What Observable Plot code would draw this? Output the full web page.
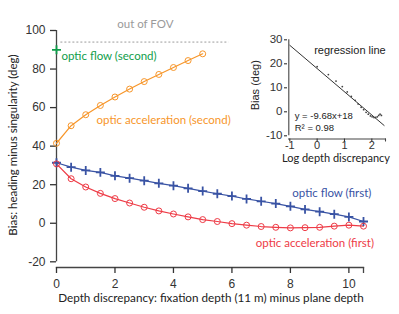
<!DOCTYPE html>
<html>
<head>
<meta charset="utf-8">
<script src="https://cdn.jsdelivr.net/npm/d3@7"></script>
<script src="https://cdn.jsdelivr.net/npm/@observablehq/plot@0.6"></script>
<style>
  body { margin: 0; background: white; }
  #wrap { position: relative; width: 399px; height: 314px; }
  #wrap svg { position: absolute; left: 0; top: 0; }
</style>
</head>
<body>
<div id="wrap"></div>
<script>
// ---- main chart data ----
const xFirst = [0, 0.5, 1, 1.5, 2, 2.5, 3, 3.5, 4, 4.5, 5, 5.5, 6, 6.5, 7, 7.5, 8, 8.5, 9, 9.5, 10, 10.5];
const flowFirst = [31.4, 29.1, 27.4, 26.4, 24.6, 23.4, 22.1, 20.7, 19.5, 18.1, 16.7, 15.3, 14.1, 12.6, 11.4, 10.2, 8.8, 7.2, 6.0, 4.7, 3.3, 0.9];
const accelFirst = [30.8, 23.1, 18.8, 15.5, 12.8, 10.5, 8.3, 6.4, 4.8, 3.3, 1.9, 0.9, -0.2, -1.0, -1.7, -2.1, -2.4, -2.3, -2.1, -1.5, -1.0, -1.5];
const xSecond = [0, 0.5, 1, 1.5, 2, 2.5, 3, 3.5, 4, 4.5, 5];
const accelSecond = [41.5, 50.6, 56.3, 61.1, 65.5, 69.6, 73.5, 77.2, 80.8, 84.4, 87.9];
const xFlowSecond = [0];
const flowSecond = [90];
const fovLimit = [94];
const xTicks = [0, 2, 4, 6, 8, 10];
const yTicks = [-20, 0, 20, 40, 60, 80, 100];

// ---- inset data ----
const logDepth = [0, 0.41, 0.69, 0.92, 1.10, 1.25, 1.39, 1.50, 1.61, 1.70, 1.79, 1.87, 1.95, 2.01, 2.08, 2.14, 2.20, 2.25, 2.30, 2.35];
const insetBias = [18.8, 15.5, 12.8, 10.5, 8.3, 6.4, 4.8, 3.3, 1.9, 0.9, -0.2, -1.0, -1.7, -2.1, -2.4, -2.3, -2.1, -1.5, -1.0, -1.5];
const regX = [-1, 2.45];
const regY = [27.7, -5.7];
const insetXTicks = [-1, 0, 1, 2];
const insetYTicks = [-10, 0, 10, 20, 30];

const BLUE = "#3953a4", RED = "#ee3b46", ORANGE = "#f7962a", GREEN = "#0f9d4a", GRAY = "#9a9a9a";
const LABEL_FONT = "Lato, 'Open Sans', sans-serif";
const TICK_FONT = "'Liberation Sans', Arial, sans-serif";
const intFmt = (d) => String(d);

const pts = (xs, ys) => xs.map((x, i) => ({x, y: ys[i]}));
const flowFirstD = pts(xFirst, flowFirst);
const accelFirstD = pts(xFirst, accelFirst);
const accelSecondD = pts(xSecond, accelSecond);
const flowSecondD = pts(xFlowSecond, flowSecond);

const main = Plot.plot({
  width: 399, height: 314,
  marginLeft: 56, marginRight: 36, marginTop: 30, marginBottom: 47,
  style: {background: "transparent", overflow: "visible"},
  x: {domain: [0, 10.5], range: [56, 363]},
  y: {domain: [-20, 100], range: [261.3, 30]},
  marks: [
    Plot.frame({anchor: "bottom", stroke: "#444", strokeWidth: 1.3}),
    Plot.ruleX([0], {y1: -20, y2: 100, stroke: "#444", strokeWidth: 1.3}),
    Plot.axisY({ticks: yTicks, tickFormat: intFmt, tickSize: 6, tickPadding: 5, label: null, fontSize: 12, fontFamily: TICK_FONT, color: "#333", strokeWidth: 1.3}),
    Plot.axisX({ticks: xTicks, tickFormat: intFmt, tickSize: 6, tickPadding: 6, label: null, fontSize: 12, fontFamily: TICK_FONT, color: "#333", strokeWidth: 1.3}),
    Plot.axisX({ticks: [10.5], tickSize: 6, tickFormat: () => "", label: null, strokeWidth: 1.3, stroke: "#444"}),
    Plot.ruleY(fovLimit, {x1: 0.15, x2: 5.9, stroke: GRAY, strokeDasharray: "2,2", strokeWidth: 1}),
    Plot.line(flowFirstD, {x: "x", y: "y", stroke: BLUE, strokeWidth: 1.2}),
    Plot.line(accelFirstD, {x: "x", y: "y", stroke: RED, strokeWidth: 1.2}),
    Plot.line(accelSecondD, {x: "x", y: "y", stroke: ORANGE, strokeWidth: 1.2}),
    Plot.dot(flowFirstD, {x: "x", y: "y", symbol: "plus", r: 3, stroke: BLUE, strokeWidth: 1.8}),
    Plot.dot(accelFirstD, {x: "x", y: "y", symbol: "circle", r: 3, stroke: RED, fill: "none", strokeWidth: 1}),
    Plot.dot(accelSecondD, {x: "x", y: "y", symbol: "circle", r: 3, stroke: ORANGE, fill: "none", strokeWidth: 1}),
    Plot.dot(flowSecondD, {x: "x", y: "y", symbol: "plus", r: 3, stroke: GREEN, strokeWidth: 1.8}),
    Plot.text(["out of FOV"], {x: 3.04, y: 103.2, fill: GRAY, fontSize: 11.5, fontFamily: LABEL_FONT}),
    Plot.text(["optic flow (second)"], {x: 0.17, y: 86.8, fill: GREEN, fontSize: 11.5, fontFamily: LABEL_FONT, textAnchor: "start"}),
    Plot.text(["optic acceleration (second)"], {x: 1.37, y: 53.4, fill: ORANGE, fontSize: 11.5, fontFamily: LABEL_FONT, textAnchor: "start"}),
    Plot.text(["optic flow (first)"], {x: 10.77, y: 15.4, fill: BLUE, fontSize: 11.5, fontFamily: LABEL_FONT, textAnchor: "end"}),
    Plot.text(["optic acceleration (first)"], {x: 10.86, y: -10.3, fill: RED, fontSize: 11.5, fontFamily: LABEL_FONT, textAnchor: "end"}),
    Plot.text(["Bias: heading minus singularity (deg)"], {frameAnchor: "left", textAnchor: "middle", rotate: -90, dx: -43, dy: -4, fill: "#222", fontSize: 11.5, fontFamily: LABEL_FONT}),
    Plot.text(["Depth discrepancy: fixation depth (11 m) minus plane depth"], {frameAnchor: "bottom", dy: 34, dx: 1, fill: "#222", fontSize: 11.7, fontFamily: LABEL_FONT})
  ]
});

const inset = Plot.plot({
  width: 399, height: 314,
  marginLeft: 288, marginRight: 14, marginTop: 39, marginBottom: 175.5,
  style: {background: "transparent", overflow: "visible"},
  x: {domain: [-1, 2.5], range: [289.3, 385]},
  y: {domain: [-10, 30], range: [135.3, 39.3]},
  marks: [
    Plot.frame({anchor: "bottom", stroke: "#444", strokeWidth: 1.1}),
    Plot.ruleX([-1], {y1: -10, y2: 30, stroke: "#444", strokeWidth: 1.1, dx: -1}),
    Plot.axisY({ticks: insetYTicks, tickFormat: intFmt, tickSize: 3, tickPadding: 2, label: null, fontSize: 11.5, fontFamily: TICK_FONT, color: "#333", strokeWidth: 1.1, dx: -1}),
    Plot.axisX({ticks: insetXTicks, tickFormat: intFmt, tickSize: 3, tickPadding: -1, label: null, fontSize: 11, fontFamily: TICK_FONT, color: "#333", strokeWidth: 1.1}),
    Plot.axisX({ticks: [2.5], tickSize: 3, tickFormat: () => "", label: null, strokeWidth: 1.1, stroke: "#444"}),
    Plot.line(pts(regX, regY), {x: "x", y: "y", stroke: "#333", strokeWidth: 1}),
    Plot.dot(pts(logDepth, insetBias), {x: "x", y: "y", r: 0.9, fill: "#444", stroke: "none"}),
    Plot.text(["regression line"], {x: 1.2, y: 25.5, fill: "#222", fontSize: 11, fontFamily: TICK_FONT}),
    Plot.text(["y = -9.68x+18"], {x: -0.82, y: -1.8, fill: "#222", fontSize: 9.5, fontFamily: TICK_FONT, textAnchor: "start"}),
    Plot.text(["R\u00B2 = 0.98"], {x: -0.82, y: -6.8, fill: "#222", fontSize: 9.5, fontFamily: TICK_FONT, textAnchor: "start"}),
    Plot.text(["Bias (deg)"], {frameAnchor: "left", textAnchor: "middle", rotate: -90, dx: -33, dy: -4, fill: "#222", fontSize: 11, fontFamily: TICK_FONT}),
    Plot.text(["Log depth discrepancy"], {frameAnchor: "bottom", dy: 22.5, dx: -1, fill: "#222", fontSize: 11, fontFamily: LABEL_FONT})
  ]
});

const wrap = document.getElementById("wrap");
wrap.appendChild(main);
wrap.appendChild(inset);
</script>
</body>
</html>
